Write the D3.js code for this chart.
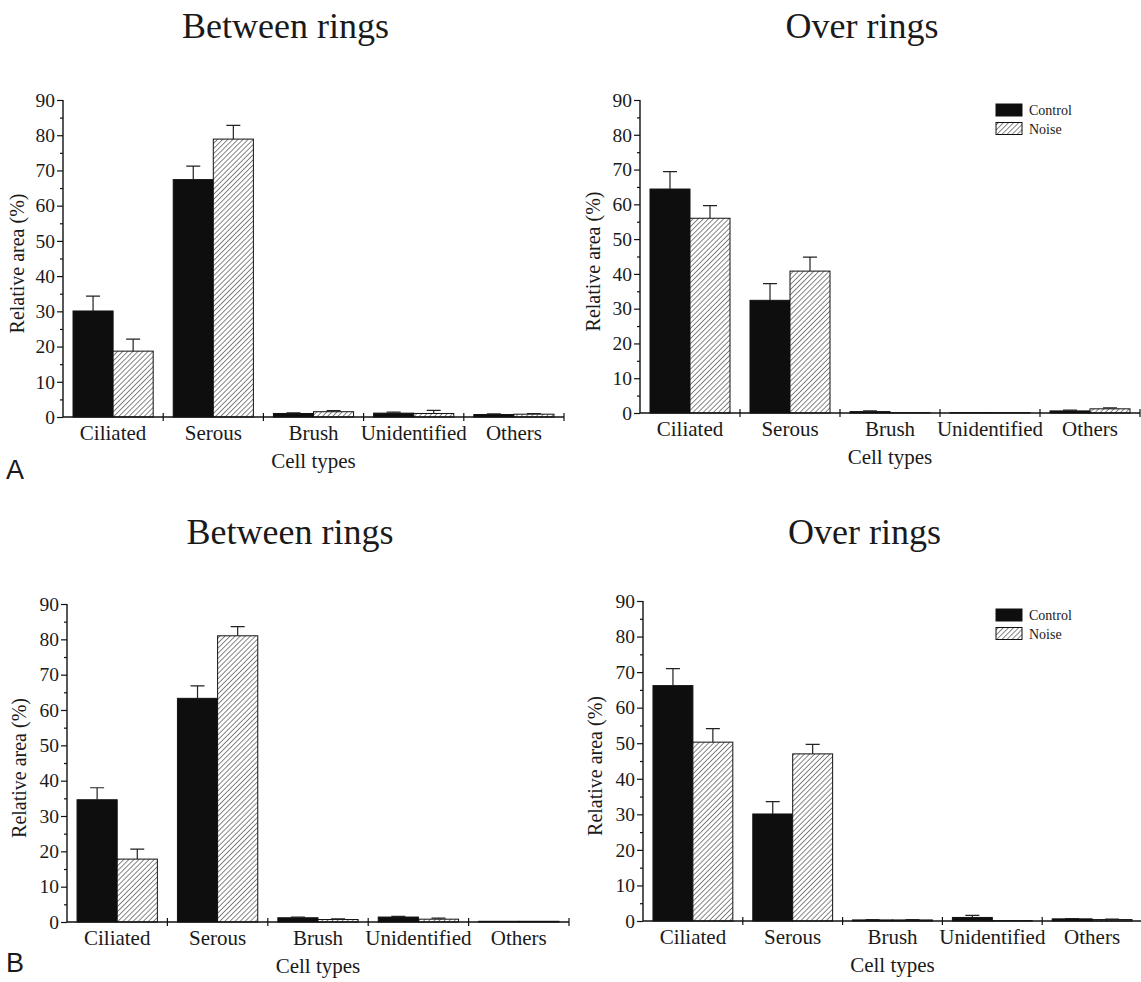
<!DOCTYPE html>
<html>
<head>
<meta charset="utf-8">
<script src="https://cdn.jsdelivr.net/npm/d3@7"></script>
<style>
  html, body { margin: 0; padding: 0; background: #fff; }
  svg { display: block; }
</style>
</head>
<body>
<div id="chart"></div>
<script>
// categories and series
const categories = ["Ciliated", "Serous", "Brush", "Unidentified", "Others"];
const seriesNames = ["Control", "Noise"];
const yTicks = [0, 10, 20, 30, 40, 50, 60, 70, 80, 90];
const yMinorTicks = [5, 15, 25, 35, 45, 55, 65, 75, 85];

// A, between rings
const aBetweenControl = [30.1, 67.4, 1.0, 1.1, 0.7];
const aBetweenControlErr = [4.2, 3.8, 0.2, 0.3, 0.2];
const aBetweenNoise = [18.7, 78.9, 1.5, 1.0, 0.8];
const aBetweenNoiseErr = [3.4, 3.9, 0.3, 0.9, 0.2];

// A, over rings
const aOverControl = [64.4, 32.4, 0.4, 0.1, 0.6];
const aOverControlErr = [5.0, 4.8, 0.2, 0.0, 0.2];
const aOverNoise = [56.0, 40.8, 0.1, 0.1, 1.2];
const aOverNoiseErr = [3.6, 4.0, 0.0, 0.0, 0.3];

// B, between rings
const bBetweenControl = [34.6, 63.3, 1.2, 1.4, 0.2];
const bBetweenControlErr = [3.4, 3.5, 0.2, 0.2, 0.0];
const bBetweenNoise = [17.8, 81.0, 0.7, 0.8, 0.2];
const bBetweenNoiseErr = [2.8, 2.6, 0.2, 0.3, 0.0];

// B, over rings
const bOverControl = [66.2, 30.1, 0.3, 1.0, 0.6];
const bOverControlErr = [4.8, 3.5, 0.1, 0.6, 0.1];
const bOverNoise = [50.3, 47.0, 0.3, 0.1, 0.4];
const bOverNoiseErr = [3.8, 2.7, 0.1, 0.0, 0.1];

let width = 1141,
    height = 982;
let serif = "Liberation Serif";
let ink = "#1a1a1a";

let svg = d3.select("#chart").append("svg")
    .attr("width", width)
    .attr("height", height)
    .attr("font-family", serif);

// hatch fill for the noise bars
let defs = svg.append("defs");
defs.append("pattern")
    .attr("id", "hatch")
    .attr("patternUnits", "userSpaceOnUse")
    .attr("width", 3.6)
    .attr("height", 3.6)
    .attr("patternTransform", "rotate(45)")
    .call(p => {
        p.append("rect").attr("width", 3.6).attr("height", 3.6).attr("fill", "#fff");
        p.append("line")
            .attr("x1", 0).attr("y1", 0).attr("x2", 0).attr("y2", 3.6)
            .attr("stroke", "#222").attr("stroke-width", 1.1);
    });

// layout of the four panels (page pixels)
let panels = [
    {title: "Between rings", titleY: 38, x0: 63, x1: 564, yTop: 100, yBase: 417, labelX: 17,
     control: aBetweenControl, controlErr: aBetweenControlErr, noise: aBetweenNoise, noiseErr: aBetweenNoiseErr,
     legend: false, letter: "A", letterY: 479},
    {title: "Over rings", titleY: 38, x0: 640, x1: 1140, yTop: 100, yBase: 413, labelX: 593,
     control: aOverControl, controlErr: aOverControlErr, noise: aOverNoise, noiseErr: aOverNoiseErr,
     legend: true, legendY: 104},
    {title: "Between rings", titleY: 544, x0: 67, x1: 569, yTop: 604, yBase: 922, labelX: 19,
     control: bBetweenControl, controlErr: bBetweenControlErr, noise: bBetweenNoise, noiseErr: bBetweenNoiseErr,
     legend: false, letter: "B", letterY: 972},
    {title: "Over rings", titleY: 544, x0: 643, x1: 1142, yTop: 601, yBase: 921, labelX: 595,
     control: bOverControl, controlErr: bOverControlErr, noise: bOverNoise, noiseErr: bOverNoiseErr,
     legend: true, legendY: 609}
];

panels.forEach(function (p) {
    let g = svg.append("g");

    let y = d3.scaleLinear().domain([0, 90]).range([p.yBase, p.yTop]);
    let x = d3.scaleBand().domain(categories).range([p.x0, p.x1]);
    let xs = d3.scaleBand().domain(seriesNames).range([0, x.bandwidth()]).paddingOuter(0.25);
    let xEdge = d3.scaleLinear().domain([0, categories.length]).range([p.x0, p.x1]);

    // title
    g.append("text")
        .attr("x", (p.x0 + p.x1) / 2 - 28)
        .attr("y", p.titleY)
        .attr("text-anchor", "middle")
        .attr("font-size", 36)
        .attr("fill", ink)
        .text(p.title);

    // bars
    let rows = [];
    categories.forEach(function (c, i) {
        rows.push({cat: c, s: "Control", v: p.control[i], e: p.controlErr[i]});
        rows.push({cat: c, s: "Noise", v: p.noise[i], e: p.noiseErr[i]});
    });

    g.selectAll(".bar")
        .data(rows)
        .enter().append("rect")
        .attr("class", "bar")
        .attr("x", d => x(d.cat) + xs(d.s))
        .attr("y", d => y(d.v))
        .attr("width", xs.bandwidth())
        .attr("height", d => y(0) - y(d.v))
        .attr("fill", d => d.s === "Control" ? "#0e0e0e" : "url(#hatch)")
        .attr("stroke", "#111")
        .attr("stroke-width", 1);

    // upper error bars
    let errRows = rows.filter(d => d.e > 0);
    g.selectAll(".err")
        .data(errRows)
        .enter().append("path")
        .attr("class", "err")
        .attr("fill", "none")
        .attr("stroke", "#222")
        .attr("stroke-width", 1.2)
        .attr("d", function (d) {
            let cx = x(d.cat) + xs(d.s) + xs.bandwidth() / 2;
            return "M" + cx + "," + y(d.v) + "V" + y(d.v + d.e) + "M" + (cx - 7) + "," + y(d.v + d.e) + "H" + (cx + 7);
        });

    // y axis
    let yAxis = g.append("g")
        .attr("transform", "translate(" + p.x0 + ",0)")
        .call(d3.axisLeft(y).tickValues(yTicks).tickSize(6).tickPadding(2))
        .attr("font-family", serif)
        .attr("font-size", 19.5);
    yAxis.select(".domain").attr("stroke", "#111").attr("stroke-width", 1.4).attr("d", "M0," + y(90) + "V" + y(0));
    yAxis.selectAll(".tick line").attr("stroke", "#111").attr("stroke-width", 1.2);
    yAxis.selectAll(".tick text").attr("fill", ink);

    let yMinor = g.append("g")
        .attr("transform", "translate(" + p.x0 + ",0)")
        .call(d3.axisLeft(y).tickValues(yMinorTicks).tickSize(3).tickFormat(""));
    yMinor.select(".domain").remove();
    yMinor.selectAll(".tick line").attr("stroke", "#111").attr("stroke-width", 1.2);

    // x axis line with crossing ticks at category edges
    g.append("line")
        .attr("x1", p.x0).attr("x2", p.x1)
        .attr("y1", y(0)).attr("y2", y(0))
        .attr("stroke", "#111").attr("stroke-width", 1.4);
    g.selectAll(".xedge")
        .data(d3.range(1, categories.length + 1))
        .enter().append("line")
        .attr("class", "xedge")
        .attr("x1", d => xEdge(d)).attr("x2", d => xEdge(d))
        .attr("y1", y(0) - 4).attr("y2", y(0) + 4)
        .attr("stroke", "#111").attr("stroke-width", 1.2);

    let xAxis = g.append("g")
        .attr("transform", "translate(0," + y(0) + ")")
        .call(d3.axisBottom(x).tickSize(0).tickPadding(8))
        .attr("font-family", serif)
        .attr("font-size", 21);
    xAxis.select(".domain").remove();
    xAxis.selectAll(".tick text").attr("fill", ink);

    // axis titles
    g.append("text")
        .attr("x", (p.x0 + p.x1) / 2)
        .attr("y", p.yBase + 51)
        .attr("text-anchor", "middle")
        .attr("font-size", 21)
        .attr("fill", ink)
        .text("Cell types");

    g.append("text")
        .attr("transform", "translate(" + p.labelX + "," + ((p.yTop + p.yBase) / 2 + 5) + ") rotate(-90)")
        .attr("text-anchor", "middle")
        .attr("dominant-baseline", "central")
        .attr("font-size", 20)
        .attr("fill", ink)
        .text("Relative area (%)");

    // legend
    if (p.legend) {
        let lg = g.append("g").attr("transform", "translate(996," + p.legendY + ")");
        seriesNames.forEach(function (s, i) {
            lg.append("rect")
                .attr("x", 0).attr("y", i * 18.5)
                .attr("width", 26).attr("height", 12)
                .attr("fill", s === "Control" ? "#0e0e0e" : "url(#hatch)")
                .attr("stroke", "#111").attr("stroke-width", 1);
            lg.append("text")
                .attr("x", 33).attr("y", i * 18.5 + 11)
                .attr("font-size", 14)
                .attr("fill", ink)
                .text(s);
        });
    }

    // panel letter
    if (p.letter) {
        g.append("text")
            .attr("x", 6)
            .attr("y", p.letterY)
            .attr("font-family", "Liberation Sans")
            .attr("font-size", 27)
            .attr("fill", ink)
            .text(p.letter);
    }
});
</script>
</body>
</html>
